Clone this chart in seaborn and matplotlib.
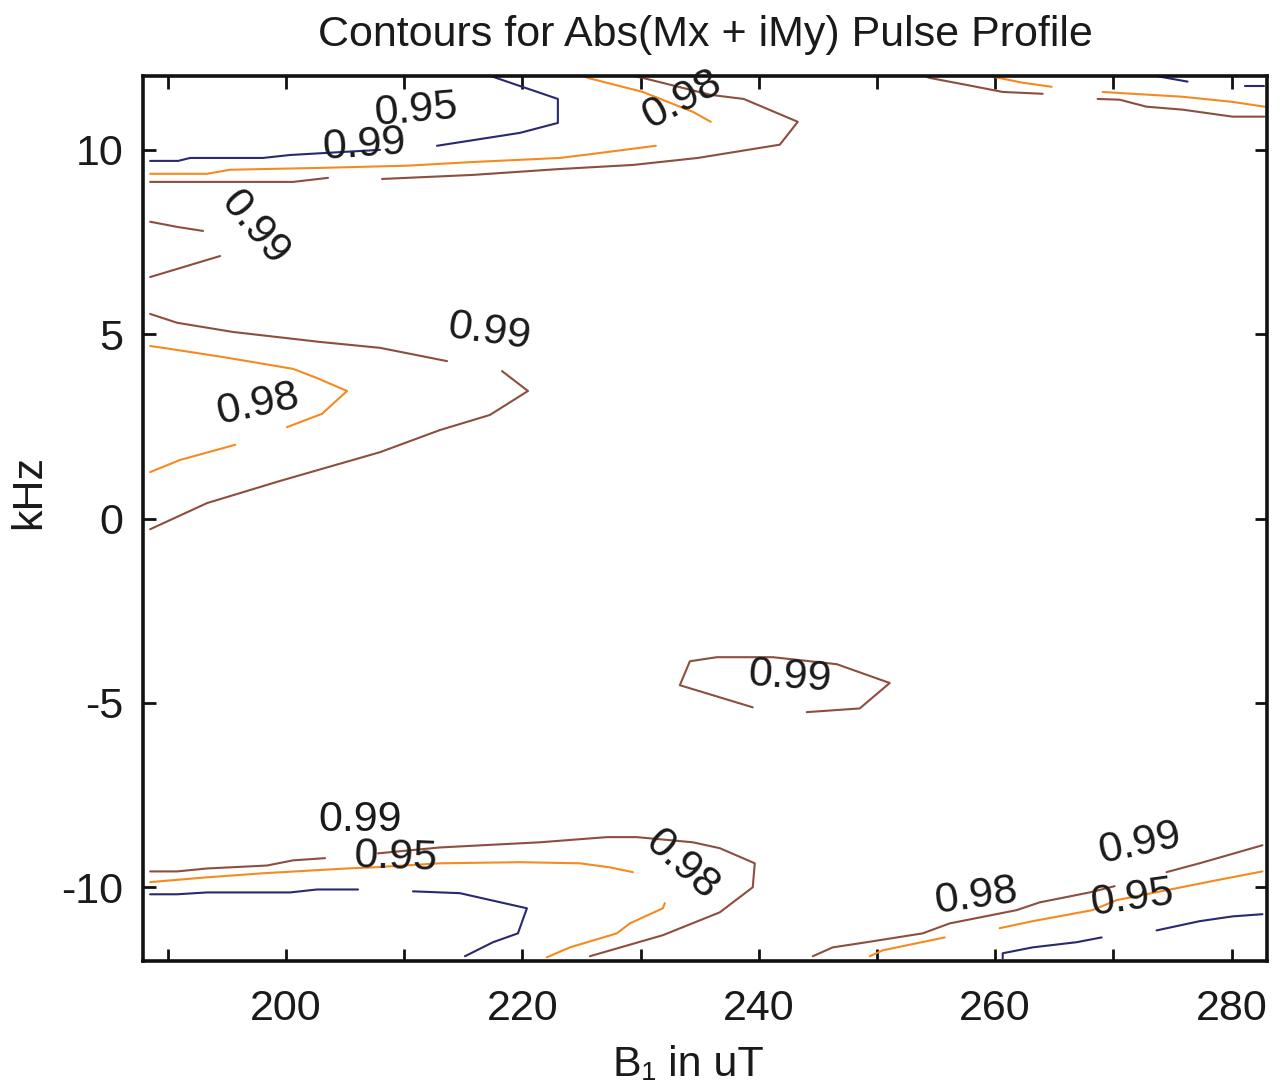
import matplotlib
matplotlib.use("Agg")
import matplotlib.pyplot as plt
import pandas as pd
import seaborn as sns
from matplotlib.ticker import MultipleLocator


# =========================================================
# DATA  (B1 in uT, offset in kHz)
# =========================================================

LEVELS = ["0.95", "0.98", "0.99"]
LEVEL_COLORS = ["#28296f", "#f68a1e", "#8c4f3f"]

# --- level 0.95 (navy) ---
NAVY_TOP_1 = [(188.5, 9.70), (190.87, 9.70), (191.88, 9.78), (198.05, 9.78),
              (200.34, 9.86), (207.95, 10.00)]
NAVY_TOP_2 = [(212.77, 10.11), (219.79, 10.46), (223.0, 10.73), (223.0, 11.38),
              (217.51, 11.98), (217.25, 12.0)]
NAVY_TOP_RIGHT_1 = [(273.66, 12.0), (276.28, 11.85)]
NAVY_TOP_RIGHT_2 = [(281.1, 11.74), (282.79, 11.74)]
NAVY_BOT_1 = [(188.5, -10.19), (190.78, -10.19), (193.32, -10.14), (200.34, -10.14),
              (202.62, -10.06), (206.09, -10.06)]
NAVY_BOT_2 = [(210.74, -10.11), (214.71, -10.16), (220.38, -10.57), (219.62, -11.25),
              (217.51, -11.49), (215.14, -11.87)]
NAVY_BOT_RIGHT_1 = [(260.64, -11.93), (260.64, -11.79), (263.17, -11.63),
                    (266.89, -11.49), (269.01, -11.36)]
NAVY_BOT_RIGHT_2 = [(273.66, -11.17), (277.29, -10.92), (280.08, -10.79),
                    (282.62, -10.73)]

# --- level 0.98 (orange) ---
ORANGE_TOP_1 = [(188.5, 9.35), (193.32, 9.35), (195.26, 9.46), (202.88, 9.51),
                (210.23, 9.57), (215.81, 9.67), (223.17, 9.78), (225.71, 9.88),
                (231.29, 10.11)]
ORANGE_TOP_2 = [(235.94, 10.76), (234.42, 11.03), (230.19, 11.57), (225.54, 11.95),
                (225.2, 12.0)]
ORANGE_TOP_RIGHT_1 = [(259.54, 12.0), (262.33, 11.82), (264.78, 11.71)]
ORANGE_TOP_RIGHT_2 = [(269.09, 11.57), (271.63, 11.52), (275.86, 11.44),
                      (280.09, 11.30), (282.79, 11.17)]
ORANGE_MID_1 = [(188.5, 4.68), (189.6, 4.63), (194.67, 4.38), (200.59, 4.06),
                (202.62, 3.81), (205.16, 3.46), (203.04, 2.84), (200.08, 2.48)]
ORANGE_MID_2 = [(195.69, 2.00), (191.04, 1.59), (188.5, 1.26)]
ORANGE_BOT_1 = [(188.5, -9.86), (193.32, -9.73), (198.05, -9.62), (205.16, -9.49),
                (207.36, -9.46), (213.02, -9.35), (219.79, -9.32), (224.86, -9.35),
                (227.4, -9.46), (229.35, -9.59)]
ORANGE_BOT_2 = [(232.05, -10.43), (231.88, -10.57), (229.09, -10.98),
                (227.99, -11.25), (224.02, -11.63), (222.07, -11.9)]
ORANGE_BOT_RIGHT_1 = [(249.39, -11.87), (250.49, -11.71), (255.73, -11.36)]
ORANGE_BOT_RIGHT_2 = [(260.38, -11.11), (263.17, -10.92), (268.24, -10.62),
                      (270.27, -10.35), (274.5, -10.08), (278.73, -9.81),
                      (282.62, -9.57)]

# --- level 0.99 (brown) ---
BROWN_TOP_1 = [(188.5, 9.13), (200.59, 9.13), (203.55, 9.24)]
BROWN_TOP_2 = [(208.12, 9.21), (215.81, 9.32), (223.17, 9.48), (229.35, 9.59),
               (234.84, 9.78), (241.78, 10.14), (243.3, 10.76), (238.73, 11.38),
               (235.94, 11.49), (230.19, 11.95), (229.35, 12.0)]
BROWN_LEFT_1 = [(188.5, 8.05), (190.78, 7.91), (192.98, 7.80)]
BROWN_LEFT_2 = [(188.5, 6.55), (194.42, 7.12)]
BROWN_TOP_RIGHT_1 = [(254.04, 12.0), (254.46, 11.95), (257.59, 11.76),
                     (260.64, 11.57), (264.02, 11.52)]
BROWN_TOP_RIGHT_2 = [(268.67, 11.38), (270.53, 11.36), (272.81, 11.17),
                     (275.86, 11.09), (280.09, 10.90), (282.79, 10.90)]
BROWN_MID_1 = [(188.5, 5.55), (190.78, 5.31), (195.52, 5.06), (202.88, 4.79),
               (207.95, 4.63), (213.62, 4.27)]
BROWN_MID_2 = [(218.27, 4.00), (220.47, 3.46), (217.25, 2.81), (213.02, 2.40),
               (207.95, 1.80), (199.49, 1.02), (193.32, 0.42), (188.5, -0.29)]
BROWN_CENTER = [(239.49, -5.12), (233.32, -4.52), (234.17, -3.87), (236.45, -3.76),
                (241.19, -3.76), (246.6, -3.95), (251.08, -4.46), (248.54, -5.15),
                (244.06, -5.25)]
BROWN_BOT_1 = [(188.5, -9.57), (190.78, -9.57), (193.32, -9.49), (198.39, -9.41),
               (200.59, -9.27), (203.3, -9.21)]
BROWN_BOT_2 = [(207.78, -9.08), (213.02, -8.92), (221.48, -8.78), (227.15, -8.64),
               (229.68, -8.64), (234.42, -8.78), (236.7, -8.94), (239.66, -9.35),
               (239.49, -10.00), (236.7, -10.68), (231.88, -11.30), (225.71, -11.87)]
BROWN_BOT_RIGHT_1 = [(244.57, -11.87), (246.26, -11.63), (249.13, -11.49),
                     (253.87, -11.25), (256.15, -10.98), (261.82, -10.62),
                     (263.76, -10.41), (267.99, -10.14), (270.11, -9.97)]
BROWN_BOT_RIGHT_2 = [(274.5, -9.59), (277.29, -9.35), (282.62, -8.86)]

SEGMENTS = {
    "0.95": [NAVY_TOP_1, NAVY_TOP_2, NAVY_TOP_RIGHT_1, NAVY_TOP_RIGHT_2,
             NAVY_BOT_1, NAVY_BOT_2, NAVY_BOT_RIGHT_1, NAVY_BOT_RIGHT_2],
    "0.98": [ORANGE_TOP_1, ORANGE_TOP_2, ORANGE_TOP_RIGHT_1, ORANGE_TOP_RIGHT_2,
             ORANGE_MID_1, ORANGE_MID_2, ORANGE_BOT_1, ORANGE_BOT_2,
             ORANGE_BOT_RIGHT_1, ORANGE_BOT_RIGHT_2],
    "0.99": [BROWN_TOP_1, BROWN_TOP_2, BROWN_LEFT_1, BROWN_LEFT_2,
             BROWN_TOP_RIGHT_1, BROWN_TOP_RIGHT_2, BROWN_MID_1, BROWN_MID_2,
             BROWN_CENTER, BROWN_BOT_1, BROWN_BOT_2, BROWN_BOT_RIGHT_1,
             BROWN_BOT_RIGHT_2],
}

# contour labels: text, B1, kHz, rotation
LABEL_TEXT = ["0.95", "0.99", "0.98", "0.99", "0.99", "0.98", "0.99",
              "0.99", "0.95", "0.98", "0.98", "0.99", "0.95"]
LABEL_X = [210.99, 206.6, 233.49, 197.38, 217.17, 197.63, 242.62,
           206.26, 209.3, 233.49, 258.44, 272.22, 271.63]
LABEL_Y = [11.06, 10.14, 11.36, 7.88, 5.06, 3.08, -4.30,
           -8.18, -9.19, -9.40, -10.24, -8.81, -10.30]
LABEL_ROT = [5, 4, 28, -50, -8, 12, -4, 0, -2, -42, 8, 12, 8]


# =========================================================
# STYLE
# =========================================================

sns.set_theme(style="ticks")
plt.rcParams["font.family"] = ["Liberation Sans", "DejaVu Sans"]
plt.rcParams["axes.unicode_minus"] = False

TEXT_COLOR = "#1a1a1a"


# =========================================================
# PLOT
# =========================================================

rows = []
seg_id = 0
for level in LEVELS:
    for seg in SEGMENTS[level]:
        for order, (bx, ky) in enumerate(seg):
            rows.append({"b1": bx, "khz": ky, "level": level,
                         "segment": seg_id, "order": order})
        seg_id += 1
df = pd.DataFrame(rows)

fig = plt.figure(figsize=(12.83, 10.87), dpi=100)
ax = fig.add_axes([0.1115, 0.1159, 0.876, 0.8141])

sns.lineplot(
    data=df,
    x="b1",
    y="khz",
    hue="level",
    hue_order=LEVELS,
    palette=LEVEL_COLORS,
    units="segment",
    estimator=None,
    sort=False,
    linewidth=1.5,
    legend=False,
    ax=ax,
)

for txt, lx, ly, rot in zip(LABEL_TEXT, LABEL_X, LABEL_Y, LABEL_ROT):
    ax.text(lx, ly, txt, fontsize=31, rotation=rot, color=TEXT_COLOR,
            ha="center", va="center", rotation_mode="anchor")

ax.set_xlim(187.9, 283.0)
ax.set_ylim(-12, 12)
ax.xaxis.set_major_locator(MultipleLocator(20))
ax.xaxis.set_minor_locator(MultipleLocator(10))
ax.yaxis.set_major_locator(MultipleLocator(5))

ax.tick_params(axis="both", which="both", direction="in", top=True, right=True,
               length=9, width=2, color="#111111", labelsize=31,
               labelcolor=TEXT_COLOR)
ax.tick_params(axis="x", which="both", pad=20)
ax.tick_params(axis="y", which="both", pad=14)

for spine in ax.spines.values():
    spine.set_linewidth(2.6)
    spine.set_color("#111111")

ax.set_title("Contours for Abs(Mx + iMy) Pulse Profile", fontsize=31, pad=22,
             color=TEXT_COLOR)
ax.set_xlabel("B\u2081 in uT", fontsize=31, color=TEXT_COLOR)
ax.set_ylabel("kHz", fontsize=31, color=TEXT_COLOR)
ax.xaxis.set_label_coords(0.485, -0.095)
ax.yaxis.set_label_coords(-0.084, 0.53)

fig.savefig("out.png", dpi=100, facecolor="white")
